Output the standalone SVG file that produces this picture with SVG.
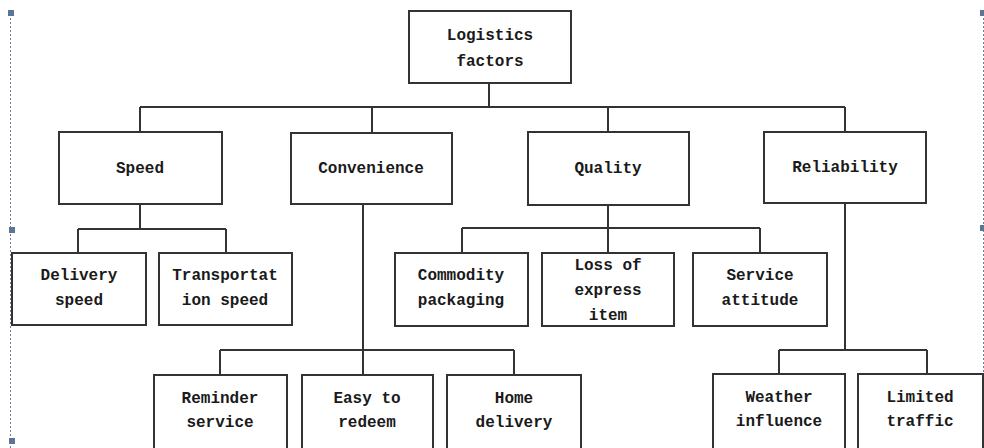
<svg xmlns="http://www.w3.org/2000/svg" width="984" height="448" viewBox="0 0 984 448">
<style>
.box{fill:#fff;stroke:#333;stroke-width:2}
.ln{fill:none;stroke:#333;stroke-width:2}
.t{font-family:"Liberation Mono","DejaVu Sans Mono",monospace;font-weight:bold;font-size:16px;fill:#1a1a1a;text-anchor:middle}
.h{fill:#5b7594}
.d{stroke:#6a7f99;stroke-width:1;stroke-dasharray:2 2;fill:none}
</style>
<rect width="984" height="448" fill="#fff"/>
<g id="frame">
<line class="d" x1="10.5" y1="14" x2="10.5" y2="448"/>
<line class="d" x1="983.5" y1="14" x2="983.5" y2="448"/>
<rect class="h" x="8" y="10" width="6" height="6"/>
<rect class="h" x="500" y="11" width="6" height="6"/>
<rect class="h" x="980" y="10" width="4" height="6"/>
<rect class="h" x="9" y="227" width="6" height="6"/>
<rect class="h" x="980" y="225" width="4" height="6"/>
<rect class="h" x="9" y="438" width="6" height="6"/>
<rect class="h" x="500" y="438" width="6" height="6"/>
</g>
<g id="connectors">
<path class="ln" d="M489 83V107M140 107H845M140 107V132M372 107V133M608 107V132M845 107V132"/>
<path class="ln" d="M140 204V229M78 229H226M78 229V253M226 229V253"/>
<path class="ln" d="M608 205V228M462 228H760M462 228V253M608 228V253M760 228V253"/>
<path class="ln" d="M363 204V375M220 350H514M220 350V375M514 350V375"/>
<path class="ln" d="M845 203V350M779 350H927M779 350V374M927 350V374"/>
</g>
<g id="root"><rect class="box" x="409" y="11" width="162" height="72"/><text class="t" x="490" y="40">Logistics</text><text class="t" x="490" y="66">factors</text></g>
<g id="speed"><rect class="box" x="59" y="132" width="163" height="72"/><text class="t" x="140" y="173">Speed</text></g>
<g id="convenience"><rect class="box" x="291" y="133" width="161" height="71"/><text class="t" x="371" y="173">Convenience</text></g>
<g id="quality"><rect class="box" x="528" y="132" width="161" height="73"/><text class="t" x="608" y="173">Quality</text></g>
<g id="reliability"><rect class="box" x="764" y="132" width="162" height="71"/><text class="t" x="845" y="172">Reliability</text></g>
<g id="delivery-speed"><rect class="box" x="12" y="253" width="134" height="72"/><text class="t" x="79" y="280">Delivery</text><text class="t" x="79" y="305">speed</text></g>
<g id="transportation-speed"><rect class="box" x="159" y="253" width="133" height="72"/><text class="t" x="225" y="280">Transportat</text><text class="t" x="225" y="305">ion speed</text></g>
<g id="commodity"><rect class="box" x="395" y="253" width="133" height="73"/><text class="t" x="461" y="280">Commodity</text><text class="t" x="461" y="305">packaging</text></g>
<g id="loss"><rect class="box" x="542" y="253" width="132" height="73"/><text class="t" x="608" y="270">Loss of</text><text class="t" x="608" y="295">express</text><text class="t" x="608" y="320">item</text></g>
<g id="service-attitude"><rect class="box" x="693" y="253" width="134" height="73"/><text class="t" x="760" y="280">Service</text><text class="t" x="760" y="305">attitude</text></g>
<g id="reminder"><rect class="box" x="154" y="375" width="133" height="76"/><text class="t" x="220" y="403">Reminder</text><text class="t" x="220" y="427">service</text></g>
<g id="easy"><rect class="box" x="302" y="375" width="131" height="76"/><text class="t" x="367" y="403">Easy to</text><text class="t" x="367" y="427">redeem</text></g>
<g id="home"><rect class="box" x="447" y="375" width="134" height="76"/><text class="t" x="514" y="403">Home</text><text class="t" x="514" y="427">delivery</text></g>
<g id="weather"><rect class="box" x="713" y="374" width="132" height="77"/><text class="t" x="779" y="402">Weather</text><text class="t" x="779" y="426">influence</text></g>
<g id="limited"><rect class="box" x="858" y="374" width="125" height="77"/><text class="t" x="920" y="402">Limited</text><text class="t" x="920" y="426">traffic</text></g>
</svg>
